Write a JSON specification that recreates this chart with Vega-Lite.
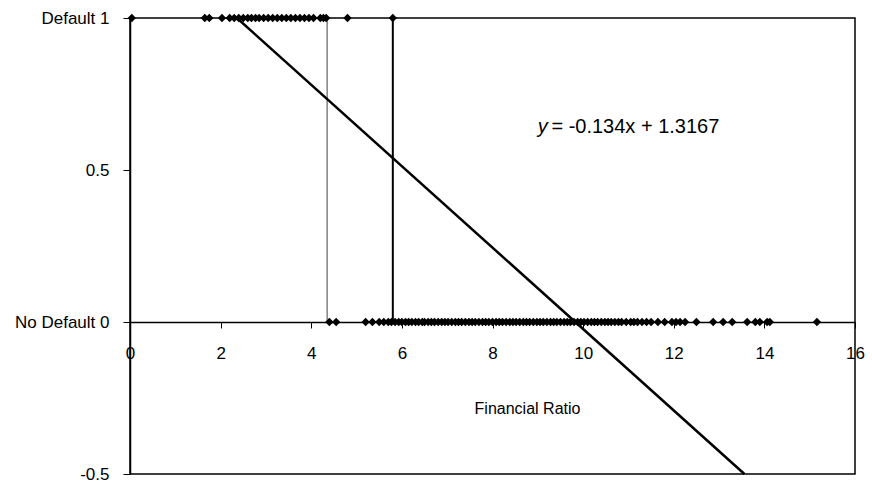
{
  "$schema": "https://vega.github.io/schema/vega-lite/v6.json",
  "width": 725,
  "height": 456,
  "autosize": "none",
  "padding": {"left": 130, "top": 18, "right": 17, "bottom": 10},
  "background": "white",
  "config": {
    "view": {"stroke": "black", "strokeWidth": 1.5},
    "font": "Liberation Sans",
    "axis": {"labelFont": "Liberation Sans", "titleFont": "Liberation Sans", "labelColor": "black", "titleColor": "black", "domainColor": "black", "tickColor": "black", "grid": false}
  },
  "datasets": {
    "default": [
      {"ratio": 0.04}, {"ratio": 1.65}, {"ratio": 1.75}, {"ratio": 2.03}, {"ratio": 2.2}, {"ratio": 2.3},
      {"ratio": 2.4}, {"ratio": 2.5}, {"ratio": 2.6}, {"ratio": 2.68}, {"ratio": 2.77}, {"ratio": 2.85},
      {"ratio": 2.95}, {"ratio": 3.05}, {"ratio": 3.15}, {"ratio": 3.25}, {"ratio": 3.35}, {"ratio": 3.45},
      {"ratio": 3.55}, {"ratio": 3.65}, {"ratio": 3.75}, {"ratio": 3.85}, {"ratio": 3.95}, {"ratio": 4.05},
      {"ratio": 4.2}, {"ratio": 4.27}, {"ratio": 4.33}, {"ratio": 4.8}, {"ratio": 5.8}
    ],
    "nodefault": [
      {"ratio": 4.4}, {"ratio": 4.55}, {"ratio": 5.2}, {"ratio": 5.35}, {"ratio": 5.5}, {"ratio": 5.6},
      {"ratio": 5.7}, {"ratio": 5.77}, {"ratio": 5.85}, {"ratio": 5.93}, {"ratio": 6.0}, {"ratio": 6.08},
      {"ratio": 6.15}, {"ratio": 6.22}, {"ratio": 6.3}, {"ratio": 6.37}, {"ratio": 6.45}, {"ratio": 6.5},
      {"ratio": 6.58}, {"ratio": 6.65}, {"ratio": 6.72}, {"ratio": 6.8}, {"ratio": 6.88}, {"ratio": 6.95},
      {"ratio": 7.02}, {"ratio": 7.1}, {"ratio": 7.18}, {"ratio": 7.25}, {"ratio": 7.32}, {"ratio": 7.4},
      {"ratio": 7.48}, {"ratio": 7.55}, {"ratio": 7.62}, {"ratio": 7.7}, {"ratio": 7.78}, {"ratio": 7.85},
      {"ratio": 7.92}, {"ratio": 8.0}, {"ratio": 8.08}, {"ratio": 8.15}, {"ratio": 8.22}, {"ratio": 8.3},
      {"ratio": 8.38}, {"ratio": 8.45}, {"ratio": 8.52}, {"ratio": 8.6}, {"ratio": 8.68}, {"ratio": 8.75},
      {"ratio": 8.82}, {"ratio": 8.9}, {"ratio": 8.98}, {"ratio": 9.05}, {"ratio": 9.12}, {"ratio": 9.2},
      {"ratio": 9.28}, {"ratio": 9.35}, {"ratio": 9.42}, {"ratio": 9.5}, {"ratio": 9.58}, {"ratio": 9.65},
      {"ratio": 9.72}, {"ratio": 9.8}, {"ratio": 9.88}, {"ratio": 9.95}, {"ratio": 10.02}, {"ratio": 10.1},
      {"ratio": 10.18}, {"ratio": 10.25}, {"ratio": 10.32}, {"ratio": 10.4}, {"ratio": 10.48}, {"ratio": 10.55},
      {"ratio": 10.62}, {"ratio": 10.7}, {"ratio": 10.78}, {"ratio": 10.85}, {"ratio": 10.95}, {"ratio": 11.05},
      {"ratio": 11.12}, {"ratio": 11.2}, {"ratio": 11.3}, {"ratio": 11.4}, {"ratio": 11.5}, {"ratio": 11.65},
      {"ratio": 11.8}, {"ratio": 11.96}, {"ratio": 12.05}, {"ratio": 12.14}, {"ratio": 12.25}, {"ratio": 12.5},
      {"ratio": 12.87}, {"ratio": 13.09}, {"ratio": 13.29}, {"ratio": 13.62}, {"ratio": 13.8}, {"ratio": 13.9},
      {"ratio": 14.06}, {"ratio": 14.12}, {"ratio": 15.16}
    ],
    "fit": [{"ratio": 2.36, "value": 1}, {"ratio": 13.56, "value": -0.5}],
    "cut1": [{"ratio": 4.35, "lo": 0, "hi": 1}],
    "cut2": [{"ratio": 5.8, "lo": 0, "hi": 1}],
    "eqy": [{"ratio": 9.0, "value": 0.641, "label": "y"}],
    "eqrest": [{"ratio": 9.3, "value": 0.641, "label": "= -0.134x + 1.3167"}]
  },
  "layer": [
    {
      "data": {"name": "cut1"},
      "mark": {"type": "rule", "color": "#444444", "strokeWidth": 1},
      "encoding": {
        "x": {"field": "ratio", "type": "quantitative", "scale": {"domain": [0, 16], "nice": false, "zero": false},
          "axis": {
            "orient": "bottom", "offset": -152, "values": [0, 2, 4, 6, 8, 10, 12, 14, 16],
            "tickSize": 6, "labelPadding": 17, "labelFontSize": 17, "labelFlush": false, "domainWidth": 1.3,
            "title": "Financial Ratio", "titleFontSize": 16, "titleFontWeight": "normal",
            "titleX": 397, "titleY": 78, "titleBaseline": "top"
          }},
        "y": {"field": "lo", "type": "quantitative", "scale": {"domain": [-0.5, 1], "nice": false, "zero": false},
          "axis": {
            "values": [-0.5, 0, 0.5, 1], "tickSize": 7, "labelPadding": 14, "labelFontSize": 17, "domainWidth": 1.5,
            "labelExpr": "datum.value == 1 ? 'Default  1' : datum.value == 0 ? 'No Default  0' : datum.value == -0.5 ? '-0.5' : datum.label",
            "title": null
          }},
        "y2": {"field": "hi"}
      }
    },
    {
      "data": {"name": "cut2"},
      "mark": {"type": "rule", "color": "black", "strokeWidth": 2},
      "encoding": {
        "x": {"field": "ratio", "type": "quantitative"},
        "y": {"field": "lo", "type": "quantitative"},
        "y2": {"field": "hi"}
      }
    },
    {
      "data": {"name": "default"},
      "transform": [{"calculate": "1", "as": "value"}],
      "mark": {"type": "point", "shape": "diamond", "filled": true, "color": "black", "size": 70, "opacity": 1},
      "encoding": {
        "x": {"field": "ratio", "type": "quantitative"},
        "y": {"field": "value", "type": "quantitative"}
      }
    },
    {
      "data": {"name": "nodefault"},
      "transform": [{"calculate": "0", "as": "value"}],
      "mark": {"type": "point", "shape": "diamond", "filled": true, "color": "black", "size": 70, "opacity": 1},
      "encoding": {
        "x": {"field": "ratio", "type": "quantitative"},
        "y": {"field": "value", "type": "quantitative"}
      }
    },
    {
      "data": {"name": "fit"},
      "mark": {"type": "line", "color": "black", "strokeWidth": 2.5},
      "encoding": {
        "x": {"field": "ratio", "type": "quantitative"},
        "y": {"field": "value", "type": "quantitative"}
      }
    },
    {
      "data": {"name": "eqy"},
      "mark": {"type": "text", "align": "left", "baseline": "middle", "fontSize": 20, "fontStyle": "italic", "color": "black"},
      "encoding": {
        "x": {"field": "ratio", "type": "quantitative"},
        "y": {"field": "value", "type": "quantitative"},
        "text": {"field": "label"}
      }
    },
    {
      "data": {"name": "eqrest"},
      "mark": {"type": "text", "align": "left", "baseline": "middle", "fontSize": 20, "color": "black"},
      "encoding": {
        "x": {"field": "ratio", "type": "quantitative"},
        "y": {"field": "value", "type": "quantitative"},
        "text": {"field": "label"}
      }
    }
  ]
}
